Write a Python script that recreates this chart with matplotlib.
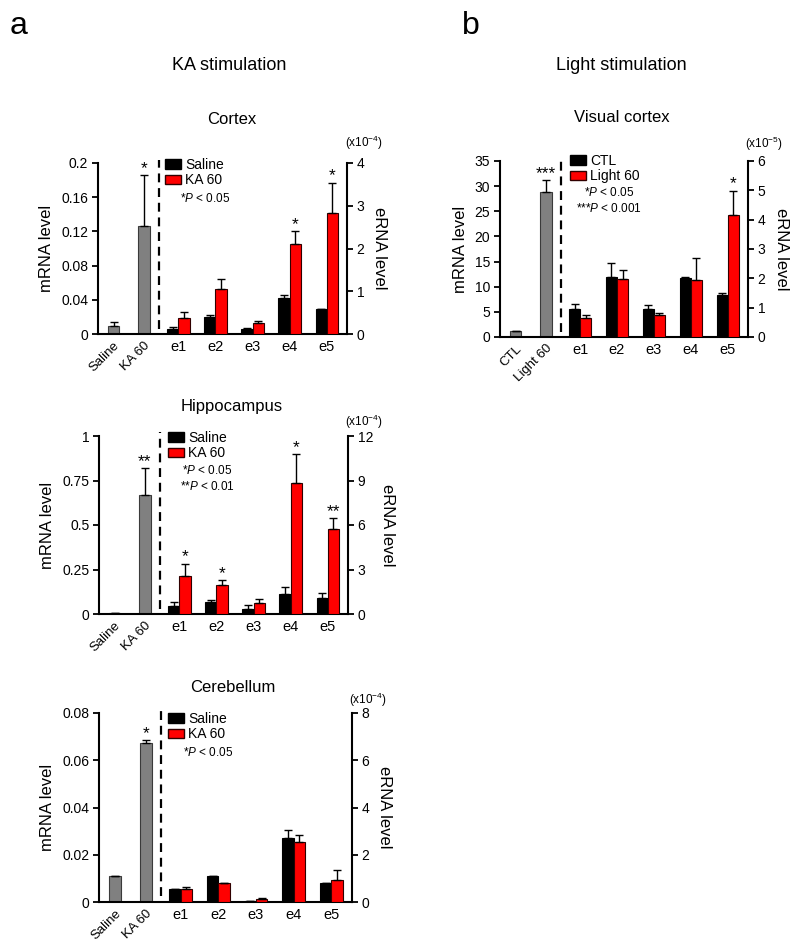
import numpy as np
import matplotlib
matplotlib.use('Agg')
import matplotlib.pyplot as plt
from matplotlib.patches import Patch
from matplotlib.ticker import FuncFormatter

plt.rcParams['font.family'] = ['Liberation Sans', 'DejaVu Sans']
plt.rcParams['mathtext.fontset'] = 'custom'
plt.rcParams['mathtext.rm'] = 'Liberation Sans'
plt.rcParams['mathtext.it'] = 'Liberation Sans:italic'

enh = ['e1', 'e2', 'e3', 'e4', 'e5']

# KA stimulation - cortex
cx_grey_lab = ['Saline', 'KA 60']
cx_mrna = [0.009, 0.126]
cx_mrna_err = [0.0046, 0.06]
cx_sal = [0.12, 0.40, 0.11, 0.84, 0.58]
cx_sal_err = [0.04, 0.04, 0.02, 0.07, 0.01]
cx_ka = [0.37, 1.06, 0.26, 2.10, 2.82]
cx_ka_err = [0.14, 0.23, 0.05, 0.31, 0.72]
cx_stars = ['', '', '', '*', '*']

# KA stimulation - hippocampus
hc_mrna = [0.005, 0.67]
hc_mrna_err = [0.0, 0.15]
hc_sal = [0.56, 0.78, 0.36, 1.38, 1.09]
hc_sal_err = [0.28, 0.18, 0.24, 0.46, 0.35]
hc_ka = [2.53, 1.96, 0.76, 8.85, 5.70]
hc_ka_err = [0.87, 0.35, 0.26, 1.95, 0.76]
hc_stars = ['*', '*', '', '*', '**']

# KA stimulation - cerebellum
cb_mrna = [0.0108, 0.0673]
cb_mrna_err = [0.0, 0.0012]
cb_sal = [0.535, 1.08, 0.05, 2.70, 0.82]
cb_sal_err = [0.02, 0.02, 0.0, 0.34, 0.0]
cb_ka = [0.56, 0.82, 0.13, 2.55, 0.92]
cb_ka_err = [0.07, 0.0, 0.04, 0.30, 0.43]
cb_stars = ['', '', '', '', '']

# Light stimulation - visual cortex
vc_grey_lab = ['CTL', 'Light 60']
vc_mrna = [1.1, 28.9]
vc_mrna_err = [0.0, 2.3]
vc_ctl = [0.96, 2.05, 0.97, 2.02, 1.43]
vc_ctl_err = [0.16, 0.48, 0.13, 0.02, 0.06]
vc_light = [0.66, 1.99, 0.74, 1.96, 4.16]
vc_light_err = [0.08, 0.28, 0.09, 0.74, 0.83]
vc_stars = ['', '', '', '', '*']

W, H = 800, 951
fig = plt.figure(figsize=(W / 100, H / 100), dpi=100)


def fp(x, y):
    return x / W, 1 - y / H


def box(x0, y0, x1, y1):
    return [x0 / W, 1 - y1 / H, (x1 - x0) / W, (y1 - y0) / H]


def panel(rect, grey_lab, grey, grey_e, grey_star, a, a_e, b, b_e, stars,
          lticks, rticks, leg_lab, leg_xy, ptext, p_xy, exp_txt, exp_xy, rpad):
    ax = fig.add_axes(rect)
    ax2 = ax.twinx()
    gx = np.array([0, 0.82])
    ex = np.arange(5) + 1.75
    w = 0.3
    ekw = dict(ecolor='black', elinewidth=1, capsize=3, capthick=1)
    ax.bar(gx, grey, 0.32, color='#808080', edgecolor='#3a3a3a', lw=0.8,
           yerr=[np.zeros(2), grey_e], error_kw=ekw)
    ax2.bar(ex - w / 2, a, w, color='black', edgecolor='black', lw=0.8,
            yerr=[np.zeros(5), a_e], error_kw=ekw)
    ax2.bar(ex + w / 2, b, w, color='#ff0000', edgecolor='#300000', lw=0.8,
            yerr=[np.zeros(5), b_e], error_kw=ekw)

    ax.set_xlim(-0.42, 6.3)
    ax.set_ylim(0, lticks[-1])
    ax2.set_ylim(0, rticks[-1])
    ax.set_yticks(lticks)
    ax2.set_yticks(rticks)
    fmt = FuncFormatter(lambda v, p: '%g' % v)
    ax.yaxis.set_major_formatter(fmt)
    ax2.yaxis.set_major_formatter(fmt)

    for s in ['top', 'right']:
        ax.spines[s].set_visible(False)
    for s in ['top', 'left', 'bottom']:
        ax2.spines[s].set_visible(False)
    for s in ['left', 'bottom']:
        ax.spines[s].set_linewidth(1.5)
    ax2.spines['right'].set_linewidth(1.5)

    ax.tick_params(axis='y', direction='out', length=4, width=1.3, labelsize=10, pad=3)
    ax2.tick_params(axis='y', direction='out', length=4, width=1.3, labelsize=10, pad=3)
    ax.tick_params(axis='x', length=0, labelsize=10.5, pad=4)

    ax.set_xticks(list(gx) + list(ex))
    ax.set_xticklabels(grey_lab + enh)
    for lab in ax.get_xticklabels()[:2]:
        lab.set_rotation(45)
        lab.set_ha('right')
        lab.set_va('top')
        lab.set_rotation_mode('anchor')
        lab.set_fontsize(9.5)

    ax.set_ylabel('mRNA level', fontsize=12, labelpad=5)
    ax2.set_ylabel('eRNA level', fontsize=12, rotation=270, labelpad=rpad, va='bottom')

    # significance marks
    ax.annotate(grey_star, (gx[1], grey[1] + grey_e[1]), xytext=(0, 1.5),
                textcoords='offset points', ha='center', va='baseline', fontsize=12.5)
    for i, s in enumerate(stars):
        if s:
            ax2.annotate(s, (ex[i] + w / 2, b[i] + b_e[i]), xytext=(0, 1.5),
                         textcoords='offset points', ha='center', va='baseline',
                         fontsize=12.5)

    ax2.plot([1.22, 1.22], [rticks[-1] * 0.03, rticks[-1] * 1.02], color='black',
             lw=1.6, dashes=(4, 2.6), clip_on=False)

    handles = [Patch(facecolor='black', edgecolor='black'),
               Patch(facecolor='#ff0000', edgecolor='#300000')]
    ax2.legend(handles, leg_lab, loc='upper left', bbox_to_anchor=fp(*leg_xy),
               bbox_transform=fig.transFigure, frameon=False, fontsize=10,
               handlelength=1.15, handleheight=0.65, handletextpad=0.3,
               labelspacing=0.1, borderpad=0, borderaxespad=0)
    fig.text(*fp(*p_xy), ptext, fontsize=8.5, ha='center', va='center',
             multialignment='center', linespacing=1.3)
    fig.text(*fp(*exp_xy), exp_txt, fontsize=8.5, ha='center', va='center')
    return ax, ax2


panel(box(98, 163, 347, 334), cx_grey_lab, cx_mrna, cx_mrna_err, '*',
      cx_sal, cx_sal_err, cx_ka, cx_ka_err, cx_stars,
      [0, 0.04, 0.08, 0.12, 0.16, 0.2], [0, 1, 2, 3, 4],
      ['Saline', 'KA 60'], (165, 158), '*$P$ < 0.05', (205, 199),
      r'(x10$^{-4}$)', (364, 143), 5)

panel(box(99, 436, 348, 614), cx_grey_lab, hc_mrna, hc_mrna_err, '**',
      hc_sal, hc_sal_err, hc_ka, hc_ka_err, hc_stars,
      [0, 0.25, 0.5, 0.75, 1], [0, 3, 6, 9, 12],
      ['Saline', 'KA 60'], (168, 431), '*$P$ < 0.05\n**$P$ < 0.01', (207, 479),
      r'(x10$^{-4}$)', (364, 422), 5)

panel(box(99, 713, 352, 902), cx_grey_lab, cb_mrna, cb_mrna_err, '*',
      cb_sal, cb_sal_err, cb_ka, cb_ka_err, cb_stars,
      [0, 0.02, 0.04, 0.06, 0.08], [0, 2, 4, 6, 8],
      ['Saline', 'KA 60'], (168, 712), '*$P$ < 0.05', (208, 753),
      r'(x10$^{-4}$)', (368, 700), 5)

panel(box(500, 161, 748, 337), vc_grey_lab, vc_mrna, vc_mrna_err, '***',
      vc_ctl, vc_ctl_err, vc_light, vc_light_err, vc_stars,
      [0, 5, 10, 15, 20, 25, 30, 35], [0, 1, 2, 3, 4, 5, 6],
      ['CTL', 'Light 60'], (570, 154), '*$P$ < 0.05\n***$P$ < 0.001', (609, 201),
      r'(x10$^{-5}$)', (764, 144), 6)

fig.text(*fp(10, 34), 'a', fontsize=23, ha='left', va='baseline')
fig.text(*fp(462, 34), 'b', fontsize=23, ha='left', va='baseline')
fig.text(*fp(229, 65), 'KA stimulation', fontsize=13, ha='center', va='center')
fig.text(*fp(621, 65), 'Light stimulation', fontsize=13, ha='center', va='center')
fig.text(*fp(232, 119), 'Cortex', fontsize=12, ha='center', va='center')
fig.text(*fp(232, 406), 'Hippocampus', fontsize=12, ha='center', va='center')
fig.text(*fp(233, 688), 'Cerebellum', fontsize=12, ha='center', va='center')
fig.text(*fp(622, 118), 'Visual cortex', fontsize=12, ha='center', va='center')

fig.savefig('out.png', dpi=100)
